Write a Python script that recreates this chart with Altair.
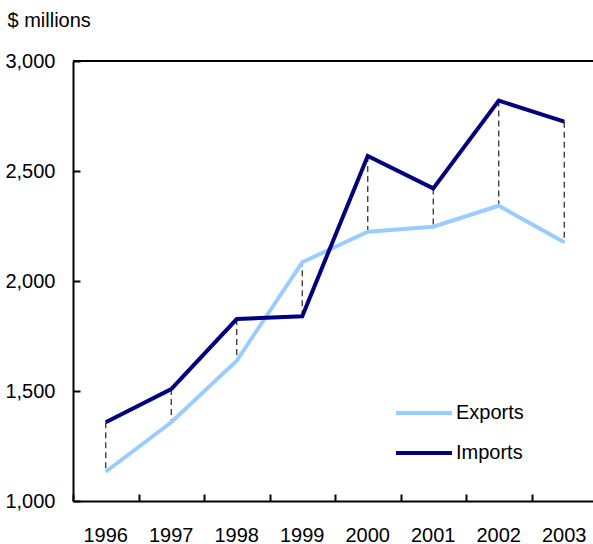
import altair as alt
import pandas as pd

years = ["1996", "1997", "1998", "1999", "2000", "2001", "2002", "2003"]
exports = [1133, 1358, 1638, 2085, 2224, 2247, 2342, 2176]
imports = [1358, 1509, 1827, 1840, 2568, 2421, 2820, 2724]
series_names = ["Exports", "Imports"]
series_colors = ["#99CCFF", "#000080"]
y_ticks = [1000, 1500, 2000, 2500, 3000]

wide = pd.DataFrame({"year": years, "Exports": exports, "Imports": imports})
long = wide.melt(id_vars="year", value_vars=series_names, var_name="series", value_name="value")

W, H = 520, 440
FONT = "Liberation Sans"

xscale = alt.Scale(type="band", paddingInner=0, paddingOuter=0, range=[0, 524])
yscale = alt.Scale(domain=[1000, 3000], nice=False, zero=False)

dashes = alt.Chart(wide).mark_rule(strokeDash=[6, 4], strokeWidth=1.2, color="#222222").encode(
    x=alt.X("year:O", bandPosition=0.5, scale=xscale, axis=None),
    y=alt.Y("Imports:Q", scale=yscale, axis=None),
    y2="Exports:Q",
)

lines = alt.Chart(long).mark_line(strokeWidth=4).encode(
    x=alt.X("year:O", bandPosition=0.5, scale=xscale,
            axis=alt.Axis(title=None, orient="bottom", ticks=False, tickSize=0, labelAngle=0,
                          labelPadding=24, labelFontSize=20, labelFont=FONT, labelColor="black",
                          domainColor="black", domainWidth=2, grid=False)),
    y=alt.Y("value:Q", scale=yscale,
            axis=alt.Axis(title="$ millions", orient="left", values=y_ticks, format=",.0f",
                          ticks=False, tickSize=0, labelPadding=18, labelFontSize=20,
                          labelFont=FONT, labelColor="black", domainColor="black", domainWidth=2,
                          grid=False, titleAngle=0, titleAlign="left", titleBaseline="alphabetic",
                          titleX=-66, titleY=-34.5, titleFontSize=20, titleFont=FONT,
                          titleFontWeight="normal", titleColor="black")),
    color=alt.Color("series:N", scale=alt.Scale(domain=series_names, range=series_colors),
                    legend=alt.Legend(title=None, orient="none", legendX=321, legendY=322,
                                      symbolType="stroke", symbolSize=3136, symbolStrokeWidth=4,
                                      labelFontSize=20, labelFont=FONT, labelColor="black",
                                      labelOffset=2, padding=0, rowPadding=0)),
)

topline = alt.Chart(pd.DataFrame({"v": [3000]})).mark_rule(strokeWidth=2, color="black").encode(
    y=alt.Y("v:Q", scale=yscale, axis=None)
)

tickmarks = alt.Chart(long).mark_point(opacity=0).encode(
    x=alt.X("year:O", scale=xscale,
            axis=alt.Axis(title=None, orient="top", offset=-H, tickBand="extent", labels=False,
                          domain=False, ticks=True, tickSize=7, tickWidth=2, tickColor="black",
                          grid=False)),
    y=alt.Y("value:Q", scale=yscale,
            axis=alt.Axis(title=None, orient="right", offset=-W, values=y_ticks, labels=False,
                          domain=False, ticks=True, tickSize=7, tickWidth=2, tickColor="black",
                          grid=False)),
)

chart = alt.layer(dashes, lines, topline, tickmarks).resolve_axis(
    x="independent", y="independent"
).properties(
    width=W, height=H,
    autosize=alt.AutoSizeParams(type="none"),
    padding={"left": 73, "top": 61, "right": 0, "bottom": 43},
).configure_view(stroke=None).configure(background="white")

chart.save("out.html", embed_options={"renderer": "svg", "actions": False})
